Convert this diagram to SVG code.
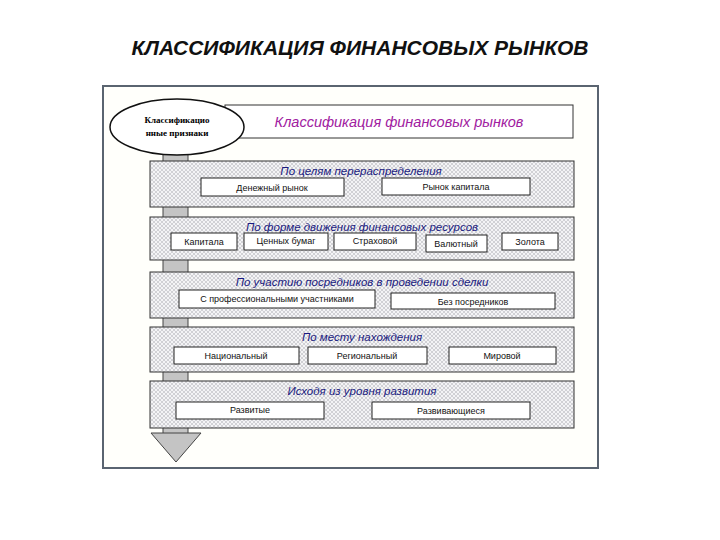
<svg xmlns="http://www.w3.org/2000/svg" width="720" height="540" viewBox="0 0 720 540">
<defs>
<pattern id="hatch" width="4" height="4" patternUnits="userSpaceOnUse">
<rect width="4" height="4" fill="#f4f4f6"/>
<path d="M0 0L4 4M4 0L0 4" stroke="#b8b8c0" stroke-width="0.6"/>
</pattern>
</defs>
<style>
.band{fill:url(#hatch);stroke:#333;stroke-width:1}
.box{fill:#fff;stroke:#222;stroke-width:1}
.t{font-family:"Liberation Sans",Arial,sans-serif;font-size:9px;fill:#111;text-anchor:middle}
.bt{font-family:"Liberation Sans",Arial,sans-serif;font-size:11.5px;font-style:italic;fill:#1a1a80;text-anchor:middle}
</style>
<rect width="720" height="540" fill="#fff"/>
<text x="360" y="55" font-family="Liberation Sans,Arial,sans-serif" font-size="21" font-weight="bold" font-style="italic" text-anchor="middle" fill="#111">КЛАССИФИКАЦИЯ ФИНАНСОВЫХ РЫНКОВ</text>
<rect x="103" y="86" width="495" height="382" fill="#fffffb" stroke="#5a6470" stroke-width="2"/>
<g id="arrow">
<rect x="163" y="148" width="25" height="286" fill="#c4c4c4" stroke="#444"/>
<polygon points="151,433 201,433 176,462" fill="#c4c4c4" stroke="#444"/>
</g>
<g id="header">
<rect x="225" y="105" width="348" height="33" fill="#fff" stroke="#333"/>
<text x="399" y="127" font-family="Liberation Sans,Arial,sans-serif" font-size="14.5" font-style="italic" fill="#a020a0" text-anchor="middle">Классификация финансовых рынков</text>
</g>
<g id="ellipse">
<ellipse cx="177" cy="127" rx="67" ry="28" fill="#fff" stroke="#111" stroke-width="1.5"/>
<text x="177" y="123" font-family="Liberation Serif,serif" font-size="9" font-weight="bold" text-anchor="middle">Классификацио</text>
<text x="177" y="136" font-family="Liberation Serif,serif" font-size="9" font-weight="bold" text-anchor="middle">нные признаки</text>
</g>
<g id="band1">
<rect class="band" x="150" y="161" width="424" height="46"/>
<text class="bt" x="361" y="175">По целям перераспределения</text>
<rect class="box" x="201" y="178" width="143" height="18"/><text class="t" x="272" y="191">Денежный рынок</text>
<rect class="box" x="382" y="178" width="148" height="17"/><text class="t" x="456" y="190">Рынок капитала</text>
</g>
<g id="band2">
<rect class="band" x="150" y="217" width="424" height="43"/>
<text class="bt" x="362" y="231">По форме движения финансовых ресурсов</text>
<rect class="box" x="171" y="233" width="66" height="17"/><text class="t" x="204" y="245">Капитала</text>
<rect class="box" x="244" y="233" width="84" height="17"/><text class="t" x="286" y="244">Ценных бумаг</text>
<rect class="box" x="334" y="233" width="82" height="17"/><text class="t" x="375" y="244">Страховой</text>
<rect class="box" x="426" y="235" width="61" height="17"/><text class="t" x="456" y="247">Валютный</text>
<rect class="box" x="502" y="233" width="56" height="17"/><text class="t" x="530" y="245">Золота</text>
</g>
<g id="band3">
<rect class="band" x="150" y="272" width="424" height="46"/>
<text class="bt" x="362" y="286">По участию посредников в проведении сделки</text>
<rect class="box" x="179" y="290" width="196" height="18"/><text class="t" x="277" y="302">С профессиональными участниками</text>
<rect class="box" x="391" y="293" width="164" height="16"/><text class="t" x="473" y="305">Без посредников</text>
</g>
<g id="band4">
<rect class="band" x="150" y="327" width="424" height="45"/>
<text class="bt" x="362" y="341">По месту нахождения</text>
<rect class="box" x="174" y="347" width="125" height="17"/><text class="t" x="236" y="359">Национальный</text>
<rect class="box" x="308" y="347" width="119" height="17"/><text class="t" x="367" y="359">Региональный</text>
<rect class="box" x="449" y="347" width="107" height="17"/><text class="t" x="502" y="359">Мировой</text>
</g>
<g id="band5">
<rect class="band" x="150" y="381" width="424" height="47"/>
<text class="bt" x="362" y="395">Исходя из уровня развития</text>
<rect class="box" x="176" y="402" width="148" height="17"/><text class="t" x="250" y="413">Развитые</text>
<rect class="box" x="372" y="402" width="158" height="17"/><text class="t" x="451" y="414">Развивающиеся</text>
</g>
<g id="connectors"></g>
</svg>
